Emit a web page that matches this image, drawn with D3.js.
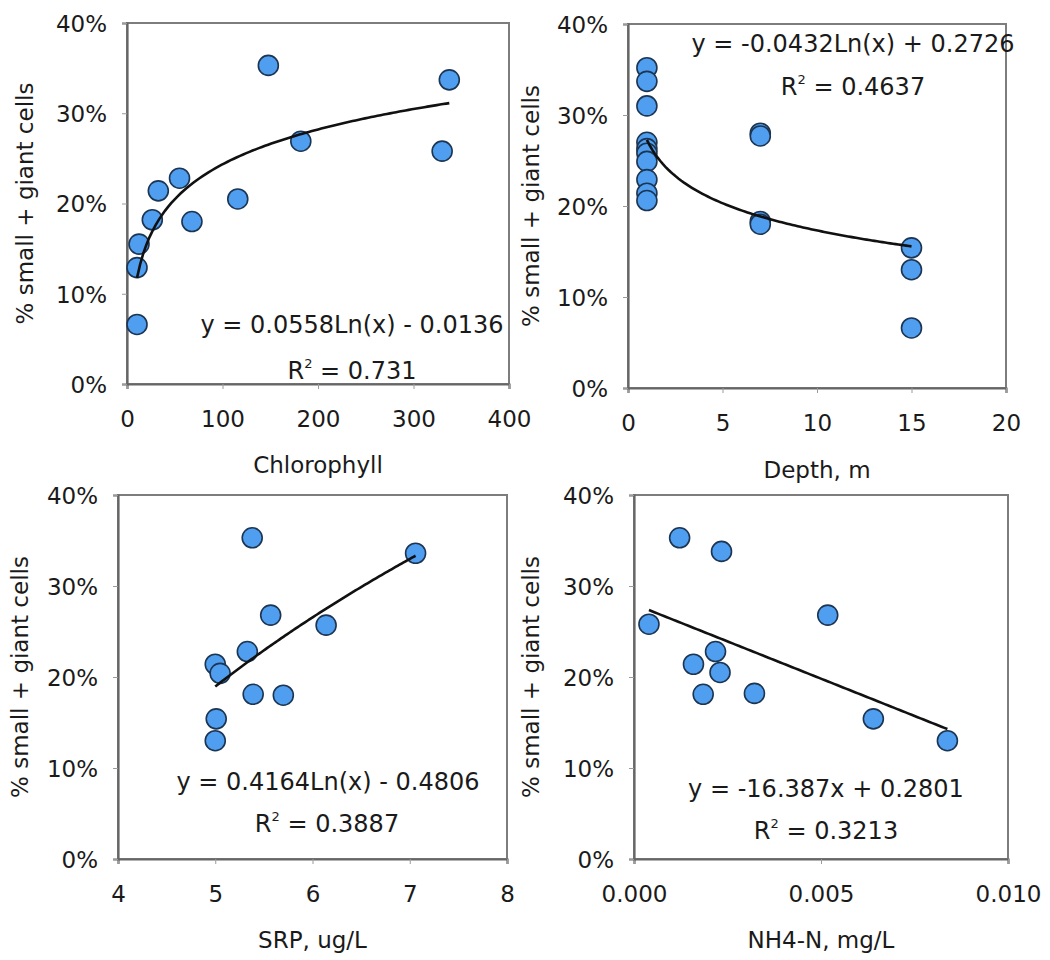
<!DOCTYPE html>
<html>
<head>
<meta charset="utf-8">
<script src="https://cdn.jsdelivr.net/npm/d3@7"></script>
<style>
  body { margin: 0; background: #fff; }
  text { font-family: "DejaVu Sans", Verdana, sans-serif; fill: #1a1a1a; }
</style>
</head>
<body>
<div id="chart"></div>
<script>
// values
const chlX = [10.5, 10.5, 12.6, 26.5, 32.8, 55, 68, 116, 148, 182, 330, 337.5];
const chlY = [0.066, 0.129, 0.155, 0.182, 0.214, 0.228, 0.180, 0.205, 0.353, 0.269, 0.258, 0.337];

const depthX = [1, 1, 1, 1, 1, 1, 1, 1, 1, 1, 7, 7, 7, 7, 15, 15, 15];
const depthY = [0.352, 0.337, 0.310, 0.270, 0.263, 0.258, 0.249, 0.229, 0.214, 0.206,
                0.280, 0.277, 0.183, 0.180, 0.154, 0.130, 0.066];

const srpX = [5.38, 7.06, 5.57, 6.14, 5.33, 5.00, 5.05, 5.39, 5.70, 5.01, 5.00];
const srpY = [0.353, 0.336, 0.268, 0.257, 0.228, 0.214, 0.204, 0.181, 0.180, 0.154, 0.130];

const nh4X = [0.0004, 0.00122, 0.00234, 0.00518, 0.00218, 0.00159, 0.0023, 0.00185, 0.00322, 0.0064, 0.00838];
const nh4Y = [0.258, 0.353, 0.338, 0.268, 0.228, 0.214, 0.205, 0.181, 0.182, 0.154, 0.130];

const yTicks = [0, 0.1, 0.2, 0.3, 0.4];
const chlTicks = [0, 100, 200, 300, 400];
const depthTicks = [0, 5, 10, 15, 20];
const srpTicks = [4, 5, 6, 7, 8];
const nh4Ticks = [0, 0.005, 0.010];

// trend line coefficients [slope, intercept] and labels
const chlFit = [0.0558, -0.0136];
const depthFit = [-0.0432, 0.2726];
const srpFit = [0.4164, -0.4806];
const nh4Fit = [-16.387, 0.2801];

const chlEq = ["y = 0.0558Ln(x) - 0.0136", "0.731"];
const depthEq = ["y = -0.0432Ln(x) + 0.2726", "0.4637"];
const srpEq = ["y = 0.4164Ln(x) - 0.4806", "0.3887"];
const nh4Eq = ["y = -16.387x + 0.2801", "0.3213"];

const yTitle = "% small + giant cells";

const width = 1050, height = 960;
const svg = d3.select("#chart").append("svg")
  .attr("width", width).attr("height", height)
  .style("background", "#fff");

const panels = [
  { xs: chlX, ys: chlY, ticks: chlTicks, fmt: d3.format("d"), fit: chlFit, log: true, eq: chlEq,
    title: "Chlorophyll", box: [127, 23, 509, 384], eqPos: [352, 333], r2Pos: [352, 379], yTitleX: 33, xTitleY: 473 },
  { xs: depthX, ys: depthY, ticks: depthTicks, fmt: d3.format("d"), fit: depthFit, log: true, eq: depthEq,
    title: "Depth, m", box: [628, 24, 1006, 388], eqPos: [853, 52], r2Pos: [853, 95], yTitleX: 539, xTitleY: 478 },
  { xs: srpX, ys: srpY, ticks: srpTicks, fmt: d3.format("d"), fit: srpFit, log: true, eq: srpEq,
    title: "SRP, ug/L", box: [118, 495, 507, 859], eqPos: [328, 790], r2Pos: [327, 832], yTitleX: 28, xTitleY: 948 },
  { xs: nh4X, ys: nh4Y, ticks: nh4Ticks, fmt: d3.format(".3f"), fit: nh4Fit, log: false, eq: nh4Eq,
    title: "NH4-N, mg/L", box: [634, 495, 1008, 859], eqPos: [826, 797], r2Pos: [826, 839], yTitleX: 539, xTitleY: 948 }
];

panels.forEach(p => {
  const [x0, y0, x1, y1] = p.box;
  const x = d3.scaleLinear().domain(d3.extent(p.ticks)).range([x0, x1]);
  const y = d3.scaleLinear().domain([0, 0.4]).range([y1, y0]);
  const g = svg.append("g");

  // plot frame
  g.append("rect")
    .attr("x", x0).attr("y", y0)
    .attr("width", x1 - x0).attr("height", y1 - y0)
    .attr("fill", "none")
    .attr("stroke", "#7d7d7d")
    .attr("stroke-width", 2);

  const xAxis = g.append("g")
    .attr("transform", `translate(0,${y1})`)
    .call(d3.axisBottom(x).tickValues(p.ticks).tickFormat(p.fmt).tickSize(5).tickPadding(22));
  const yAxis = g.append("g")
    .attr("transform", `translate(${x0},0)`)
    .call(d3.axisLeft(y).tickValues(yTicks).tickFormat(d3.format(".0%")).tickSize(5).tickPadding(15));

  [xAxis, yAxis].forEach(a => {
    a.select(".domain").attr("stroke", "#666").attr("stroke-width", 2.2);
    a.selectAll(".tick line").attr("stroke", "#9a9a9a");
    a.selectAll(".tick text")
      .attr("font-size", 23)
      .attr("font-family", "DejaVu Sans, Verdana, sans-serif")
      .attr("fill", "#1a1a1a");
  });
  yAxis.selectAll(".tick text").attr("dy", "0.36em");

  // axis titles
  g.append("text")
    .attr("x", (x0 + x1) / 2)
    .attr("y", p.xTitleY)
    .attr("text-anchor", "middle")
    .attr("font-size", 23)
    .text(p.title);

  g.append("text")
    .attr("transform", `translate(${p.yTitleX},${(y0 + y1) / 2}) rotate(-90)`)
    .attr("text-anchor", "middle")
    .attr("font-size", 23)
    .text(yTitle);

  // points
  const pts = p.xs.map((v, i) => ({ x: v, y: p.ys[i] }));
  g.selectAll("circle")
    .data(pts)
    .join("circle")
    .attr("cx", d => x(d.x))
    .attr("cy", d => y(d.y))
    .attr("r", 10)
    .attr("fill", "#4f9ef0")
    .attr("stroke", "#1c3552")
    .attr("stroke-width", 1.6);

  // trend line from the printed equation
  const [lo, hi] = d3.extent(p.xs);
  const f = v => p.fit[0] * (p.log ? Math.log(v) : v) + p.fit[1];
  const xs = d3.range(0, 101).map(i => lo + (hi - lo) * i / 100);
  g.append("path")
    .datum(xs)
    .attr("fill", "none")
    .attr("stroke", "#111")
    .attr("stroke-width", 2.6)
    .attr("d", d3.line().x(v => x(v)).y(v => y(f(v))));

  // equation and R²
  g.append("text")
    .attr("x", p.eqPos[0]).attr("y", p.eqPos[1])
    .attr("text-anchor", "middle")
    .attr("font-size", 24)
    .text(p.eq[0]);

  const r2 = g.append("text")
    .attr("x", p.r2Pos[0]).attr("y", p.r2Pos[1])
    .attr("text-anchor", "middle")
    .attr("font-size", 24);
  r2.append("tspan").text("R");
  r2.append("tspan").attr("font-size", 13).attr("dy", -11).text("2");
  r2.append("tspan").attr("dy", 11).text(" = " + p.eq[1]);
});
</script>
</body>
</html>
